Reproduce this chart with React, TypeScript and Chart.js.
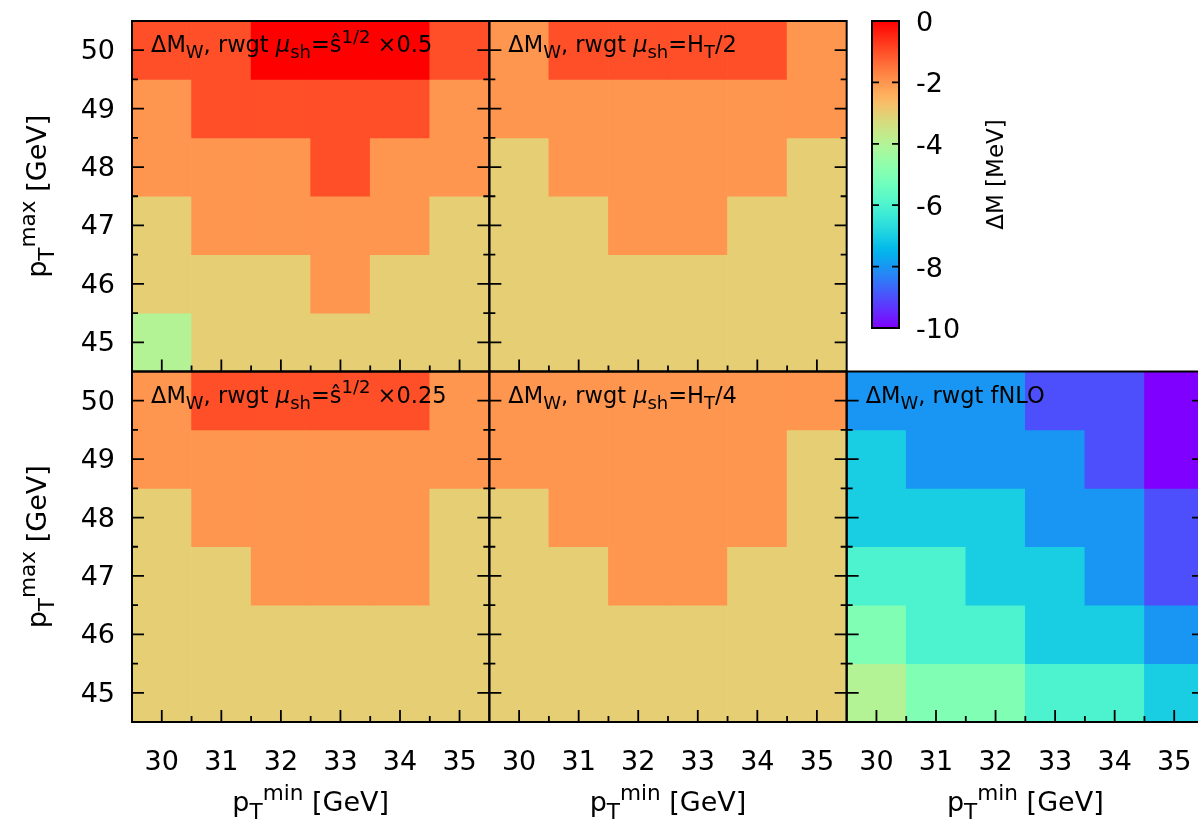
import React, { useEffect, useRef } from 'react';
import { Chart, registerables } from 'chart.js';
Chart.register(...registerables);

const FONT = '"DejaVu Sans", sans-serif';

// categories / ticks
const X_LABELS = ['30', '31', '32', '33', '34', '35'];
const Y_ROWS = [50, 49, 48, 47, 46, 45]; // row order of the value tables (top -> bottom)
const Y_TICKS = [45, 46, 47, 48, 49, 50];
const CB_TICKS = [0, -2, -4, -6, -8, -10];
const CB_MIN = -10;
const CB_MAX = 0;

// ΔM [MeV] values, rows = pT^max 50..45, columns = pT^min 30..35
const DM_S05 = [
  [-1, -1, 0, 0, 0, -1],
  [-2, -1, -1, -1, -1, -2],
  [-2, -2, -2, -1, -2, -2],
  [-3, -2, -2, -2, -2, -3],
  [-3, -3, -3, -2, -3, -3],
  [-4, -3, -3, -3, -3, -3],
];
const DM_HT2 = [
  [-2, -1, -1, -1, -1, -2],
  [-2, -2, -2, -2, -2, -2],
  [-3, -2, -2, -2, -2, -3],
  [-3, -3, -2, -2, -3, -3],
  [-3, -3, -3, -3, -3, -3],
  [-3, -3, -3, -3, -3, -3],
];
const DM_S025 = [
  [-2, -1, -1, -1, -1, -2],
  [-2, -2, -2, -2, -2, -2],
  [-3, -2, -2, -2, -2, -3],
  [-3, -3, -2, -2, -2, -3],
  [-3, -3, -3, -3, -3, -3],
  [-3, -3, -3, -3, -3, -3],
];
const DM_HT4 = [
  [-2, -2, -2, -2, -2, -2],
  [-2, -2, -2, -2, -2, -3],
  [-3, -2, -2, -2, -2, -3],
  [-3, -3, -2, -2, -3, -3],
  [-3, -3, -3, -3, -3, -3],
  [-3, -3, -3, -3, -3, -3],
];
const DM_FNLO = [
  [-8, -8, -8, -9, -9, -10],
  [-7, -8, -8, -8, -9, -10],
  [-7, -7, -7, -8, -8, -9],
  [-6, -6, -7, -7, -8, -9],
  [-5, -6, -6, -7, -7, -8],
  [-4, -5, -5, -6, -6, -7],
];

type Part = { t: string; sub?: boolean; sup?: boolean; it?: boolean };

const lbl = (tail: Part[]): Part[] => [
  { t: 'ΔM' },
  { t: 'W', sub: true },
  { t: ', rwgt ' },
  ...tail,
];
const MU: Part[] = [{ t: 'μ', it: true }, { t: 'sh', sub: true }];

const PANELS = [
  { data: DM_S05, x: 'x0', y: 'yTop', label: lbl([...MU, { t: '=ŝ' }, { t: '1/2', sup: true }, { t: ' ×0.5' }]) },
  { data: DM_HT2, x: 'x1', y: 'yTop', label: lbl([...MU, { t: '=H' }, { t: 'T', sub: true }, { t: '/2' }]) },
  { data: DM_S025, x: 'x0', y: 'yBot', label: lbl([...MU, { t: '=ŝ' }, { t: '1/2', sup: true }, { t: ' ×0.25' }]) },
  { data: DM_HT4, x: 'x1', y: 'yBot', label: lbl([...MU, { t: '=H' }, { t: 'T', sub: true }, { t: '/4' }]) },
  { data: DM_FNLO, x: 'x2', y: 'yBot', label: lbl([{ t: 'fNLO' }]) },
];

const X_TITLE: Part[] = [{ t: 'p' }, { t: 'T', sub: true }, { t: 'min', sup: true }, { t: ' [GeV]' }];
const Y_TITLE: Part[] = [{ t: 'p' }, { t: 'T', sub: true }, { t: 'max', sup: true }, { t: ' [GeV]' }];
const CB_TITLE: Part[] = [{ t: 'ΔM [MeV]' }];

// gnuplot rgbformulae 33,13,10
function palette(v: number): string {
  const x = Math.min(1, Math.max(0, (v - CB_MIN) / (CB_MAX - CB_MIN)));
  const r = Math.min(1, Math.abs(2 * x - 0.5));
  const g = Math.max(0, Math.sin(Math.PI * x));
  const b = Math.max(0, Math.cos((Math.PI / 2) * x));
  return `rgb(${Math.round(r * 255)},${Math.round(g * 255)},${Math.round(b * 255)})`;
}

function drawRich(ctx: CanvasRenderingContext2D, parts: Part[], x: number, y: number, size: number, align: 'left' | 'center') {
  const small = size * 0.8;
  const fontOf = (p: Part) => `${p.it ? 'italic ' : ''}${p.sub || p.sup ? small : size}px ${FONT}`;
  let total = 0;
  const widths = parts.map((p) => {
    ctx.font = fontOf(p);
    const w = ctx.measureText(p.t).width;
    total += w;
    return w;
  });
  let cx = align === 'center' ? x - total / 2 : x;
  ctx.textAlign = 'left';
  ctx.textBaseline = 'alphabetic';
  ctx.fillStyle = '#000';
  parts.forEach((p, i) => {
    ctx.font = fontOf(p);
    const dy = p.sub ? size * 0.28 : p.sup ? -size * 0.42 : 0;
    ctx.fillText(p.t, cx, y + dy);
    cx += widths[i];
  });
}

const framePlugin = {
  id: 'frame',
  afterDraw(chart: any) {
    const ctx: CanvasRenderingContext2D = chart.ctx;
    ctx.save();
    ctx.strokeStyle = '#000';
    PANELS.forEach((p) => {
      const xs = chart.scales[p.x];
      const ys = chart.scales[p.y];
      const L = xs.left, R = xs.right, T = ys.top, B = ys.bottom;
      ctx.lineWidth = 1.8;
      ctx.beginPath();
      X_LABELS.forEach((_, i) => {
        const px = xs.getPixelForValue(i);
        ctx.moveTo(px, B); ctx.lineTo(px, B - 12);
        if (i < X_LABELS.length - 1) {
          const mx = xs.getPixelForValue(i + 0.5);
          ctx.moveTo(mx, B); ctx.lineTo(mx, B - 6);
        }
      });
      Y_TICKS.forEach((v, i) => {
        const py = ys.getPixelForValue(v);
        ctx.moveTo(L, py); ctx.lineTo(L + 12, py);
        ctx.moveTo(R, py); ctx.lineTo(R - 12, py);
        if (i < Y_TICKS.length - 1) {
          const my = ys.getPixelForValue(v + 0.5);
          ctx.moveTo(L, my); ctx.lineTo(L + 6, my);
          ctx.moveTo(R, my); ctx.lineTo(R - 6, my);
        }
      });
      ctx.stroke();
      ctx.lineWidth = 2;
      ctx.strokeRect(L, T, R - L, B - T);
      drawRich(ctx, p.label, L + 19, T + 31, 22.5, 'left');
    });
    ['x0', 'x1', 'x2'].forEach((id) => {
      const xs = chart.scales[id];
      drawRich(ctx, X_TITLE, (xs.left + xs.right) / 2, xs.top + 89, 27, 'center');
    });
    ['yTop', 'yBot'].forEach((id) => {
      const ys = chart.scales[id];
      ctx.save();
      ctx.translate(46, (ys.top + ys.bottom) / 2);
      ctx.rotate(-Math.PI / 2);
      drawRich(ctx, Y_TITLE, 0, 0, 27, 'center');
      ctx.restore();
    });
    ctx.restore();
  },
};

const cbPlugin = {
  id: 'cbframe',
  afterDraw(chart: any) {
    const ctx: CanvasRenderingContext2D = chart.ctx;
    const a = chart.chartArea;
    const ys = chart.scales.y;
    ctx.save();
    ctx.strokeStyle = '#000';
    ctx.lineWidth = 1.8;
    ctx.beginPath();
    CB_TICKS.forEach((v) => {
      if (v === CB_MIN || v === CB_MAX) return;
      const py = ys.getPixelForValue(v);
      ctx.moveTo(a.left, py); ctx.lineTo(a.left + 7, py);
      ctx.moveTo(a.right, py); ctx.lineTo(a.right - 7, py);
    });
    ctx.stroke();
    ctx.lineWidth = 2;
    ctx.strokeRect(a.left, a.top, a.right - a.left, a.bottom - a.top);
    ctx.translate(a.right + 104, (a.top + a.bottom) / 2);
    ctx.rotate(-Math.PI / 2);
    drawRich(ctx, CB_TITLE, 0, 0, 23, 'center');
    ctx.restore();
  },
};

const tickFont = { family: FONT, size: 27 };

function xAxis() {
  return {
    type: 'category',
    position: 'bottom',
    stack: 'px',
    offset: true,
    grid: { display: false, drawTicks: false },
    border: { display: false },
    ticks: { font: tickFont, color: '#000', padding: 25, maxRotation: 0, autoSkip: false },
    afterFit: (s: any) => {
      s.height = 99;
      s.paddingLeft = 0; s.paddingRight = 0; s.paddingTop = 0; s.paddingBottom = 0;
    },
  };
}
function yAxis() {
  return {
    type: 'linear',
    position: 'left',
    stack: 'py',
    min: 44.5,
    max: 50.5,
    afterBuildTicks: (s: any) => { s.ticks = Y_TICKS.map((v) => ({ value: v })); },
    grid: { display: false, drawTicks: false },
    border: { display: false },
    ticks: { font: tickFont, color: '#000', padding: 17, labelOffset: 2 },
    afterFit: (s: any) => {
      s.width = 132;
      s.paddingLeft = 0; s.paddingRight = 0; s.paddingTop = 0; s.paddingBottom = 0;
    },
  };
}

export default function App() {
  const mainRef = useRef<HTMLCanvasElement>(null);
  const cbRef = useRef<HTMLCanvasElement>(null);

  useEffect(() => {
    const datasets: any[] = [];
    PANELS.forEach((p) => {
      Y_ROWS.forEach((yv, r) => {
        datasets.push({
          data: X_LABELS.map(() => [yv - 0.5, yv + 0.5]),
          backgroundColor: p.data[r].map(palette),
          xAxisID: p.x,
          yAxisID: p.y,
          grouped: false,
          barPercentage: 1,
          categoryPercentage: 1,
          borderWidth: 0,
        });
      });
    });

    const main = new Chart(mainRef.current as HTMLCanvasElement, {
      type: 'bar',
      data: { labels: X_LABELS, datasets },
      options: {
        animation: false,
        responsive: false,
        devicePixelRatio: 1,
        events: [],
        layout: { padding: { top: 21, right: 6, left: 0, bottom: 0 } },
        plugins: { legend: { display: false }, tooltip: { enabled: false } },
        scales: {
          x0: xAxis(),
          x1: xAxis(),
          x2: xAxis(),
          yBot: yAxis(),
          yTop: yAxis(),
        } as any,
      },
      plugins: [framePlugin],
    });

    const cb = new Chart(cbRef.current as HTMLCanvasElement, {
      type: 'bar',
      data: {
        labels: ['ΔM'],
        datasets: [
          {
            data: [[CB_MIN, CB_MAX]] as any,
            backgroundColor: (c: any) => {
              const ch = c.chart;
              const ys = ch.scales.y;
              if (!ch.chartArea || !ys) return palette(-5);
              const g = ch.ctx.createLinearGradient(0, ys.getPixelForValue(CB_MIN), 0, ys.getPixelForValue(CB_MAX));
              for (let i = 0; i <= 50; i++) g.addColorStop(i / 50, palette(CB_MIN + ((CB_MAX - CB_MIN) * i) / 50));
              return g;
            },
            barPercentage: 1,
            categoryPercentage: 1,
            borderWidth: 0,
          },
        ],
      },
      options: {
        animation: false,
        responsive: false,
        devicePixelRatio: 1,
        events: [],
        layout: { padding: { top: 21, left: 10, right: 0, bottom: 32 } },
        plugins: { legend: { display: false }, tooltip: { enabled: false } },
        scales: {
          x: { display: false, offset: true },
          y: {
            type: 'linear',
            position: 'right',
            min: CB_MIN,
            max: CB_MAX,
            afterBuildTicks: (s: any) => { s.ticks = CB_TICKS.map((v) => ({ value: v })); },
            grid: { display: false, drawTicks: false },
            border: { display: false },
            ticks: { font: tickFont, color: '#000', padding: 17, labelOffset: 3 },
            afterFit: (s: any) => {
              s.width = 123;
              s.paddingLeft = 0; s.paddingRight = 0; s.paddingTop = 0; s.paddingBottom = 0;
            },
          },
        } as any,
      },
      plugins: [cbPlugin],
    });

    return () => {
      main.destroy();
      cb.destroy();
    };
  }, []);

  return (
    <div style={{ position: 'absolute', left: 0, top: 0, width: 1198, height: 821, overflow: 'hidden', background: '#fff' }}>
      <canvas ref={mainRef} width={1210} height={821} style={{ position: 'absolute', left: 0, top: 0, width: 1210, height: 821 }} />
      <canvas ref={cbRef} width={160} height={360} style={{ position: 'absolute', left: 862, top: 0, width: 160, height: 360 }} />
    </div>
  );
}
